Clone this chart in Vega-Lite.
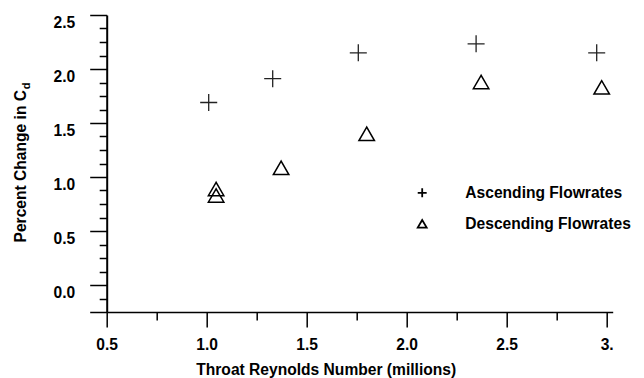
{
  "$schema": "https://vega.github.io/schema/vega-lite/v6.json",
  "width": 506,
  "height": 297,
  "autosize": {"type": "none"},
  "padding": {"left": 106.7, "top": 15, "right": 31.3, "bottom": 66},
  "background": "white",
  "config": {
    "view": {"stroke": null},
    "font": "Liberation Sans",
    "axis": {
      "grid": false,
      "domainColor": "black",
      "tickColor": "black",
      "labelColor": "black",
      "titleColor": "black",
      "labelFont": "Liberation Sans",
      "titleFont": "Liberation Sans",
      "labelFontWeight": "bold",
      "titleFontWeight": "bold",
      "labelFontSize": 15.6,
      "titleFontSize": 15.6,
      "tickWidth": 1.5,
      "labelOverlap": false,
      "labelFlush": false
    },
    "legend": {
      "labelFont": "Liberation Sans",
      "labelFontWeight": "bold",
      "labelFontSize": 15.6,
      "labelColor": "black",
      "labelLimit": 400
    }
  },
  "data": {
    "values": [
      {"re": 1.01, "cd": 1.69, "series": "Ascending Flowrates"},
      {"re": 1.33, "cd": 1.91, "series": "Ascending Flowrates"},
      {"re": 1.758, "cd": 2.15, "series": "Ascending Flowrates"},
      {"re": 2.347, "cd": 2.233, "series": "Ascending Flowrates"},
      {"re": 2.95, "cd": 2.15, "series": "Ascending Flowrates"},
      {"re": 1.047, "cd": 0.889, "series": "Descending Flowrates"},
      {"re": 1.047, "cd": 0.829, "series": "Descending Flowrates"},
      {"re": 1.372, "cd": 1.085, "series": "Descending Flowrates"},
      {"re": 1.8, "cd": 1.4, "series": "Descending Flowrates"},
      {"re": 2.372, "cd": 1.88, "series": "Descending Flowrates"},
      {"re": 2.975, "cd": 1.83, "series": "Descending Flowrates"}
    ]
  },
  "resolve": {"axis": {"x": "independent", "y": "independent"}},
  "layer": [
    {
      "transform": [{"filter": "datum.series == 'Ascending Flowrates'"}],
      "mark": {"type": "point", "filled": false, "color": "#222222", "strokeWidth": 1.3, "opacity": 1, "size": 290},
      "encoding": {
        "x": {
          "field": "re",
          "type": "quantitative",
          "scale": {"domain": [0.5, 3.03], "nice": false, "zero": false},
          "axis": {
            "orient": "bottom",
            "title": "Throat Reynolds Number (millions)",
            "values": [0.5, 1, 1.5, 2, 2.5, 3],
            "labelExpr": "datum.value == 3 ? '3.' : format(datum.value, '.1f')",
            "tickSize": 15,
            "domainWidth": 1.5,
            "labelPadding": 10,
            "titleX": 219,
            "titleY": 62,
            "titleBaseline": "alphabetic",
            "titleAlign": "center",
            "titleAnchor": null
          }
        },
        "y": {
          "field": "cd",
          "type": "quantitative",
          "scale": {"domain": [-0.25, 2.5], "nice": false, "zero": false},
          "axis": {
            "orient": "left",
            "title": "Percent Change in C",
            "values": [-0.25, 0, 0.5, 1, 1.5, 2, 2.5],
            "labelExpr": "datum.value < 0 ? '' : format(datum.value, '.1f')",
            "tickSize": 17,
            "domainWidth": 2,
            "labelBaseline": "top",
            "labelPadding": 15,
            "titleX": -81.7,
            "titleY": 150.7,
            "titleBaseline": "alphabetic",
            "titleAlign": "center",
            "titleAnchor": null
          }
        },
        "shape": {
          "field": "series",
          "type": "nominal",
          "scale": {"domain": ["Ascending Flowrates", "Descending Flowrates"], "range": ["M-1,0H1M0,-1V1", "triangle-up"]},
          "legend": {
            "title": null,
            "orient": "none",
            "legendX": 307.7,
            "legendY": 170,
            "symbolSize": 80,
            "symbolStrokeWidth": 1.8,
            "symbolStrokeColor": "black",
            "symbolFillColor": "transparent",
            "labelOffset": 35.3,
            "rowPadding": 14,
            "labelBaseline": "middle"
          }
        }
      }
    },
    {
      "transform": [{"filter": "datum.series == 'Descending Flowrates'"}],
      "mark": {"type": "point", "filled": false, "color": "black", "strokeWidth": 1.5, "opacity": 1, "size": 240},
      "encoding": {
        "x": {
          "field": "re",
          "type": "quantitative",
          "axis": {
            "orient": "bottom",
            "title": null,
            "values": [0.75, 1.25, 1.75, 2.25, 2.75],
            "labels": false,
            "domain": false,
            "tickSize": 8
          }
        },
        "y": {
          "field": "cd",
          "type": "quantitative",
          "axis": {
            "orient": "left",
            "title": "d",
            "titleFontSize": 11,
            "titleX": -77.4,
            "titleY": 70.5,
            "titleBaseline": "alphabetic",
            "titleAlign": "center",
            "titleAnchor": null,
            "values": [-0.125, 0.125, 0.25, 0.375, 0.625, 0.75, 0.875, 1.125, 1.25, 1.375, 1.625, 1.75, 1.875, 2.125, 2.25, 2.375],
            "labels": false,
            "domain": false,
            "tickSize": 7.5
          }
        },
        "shape": {"field": "series", "type": "nominal"}
      }
    }
  ]
}
